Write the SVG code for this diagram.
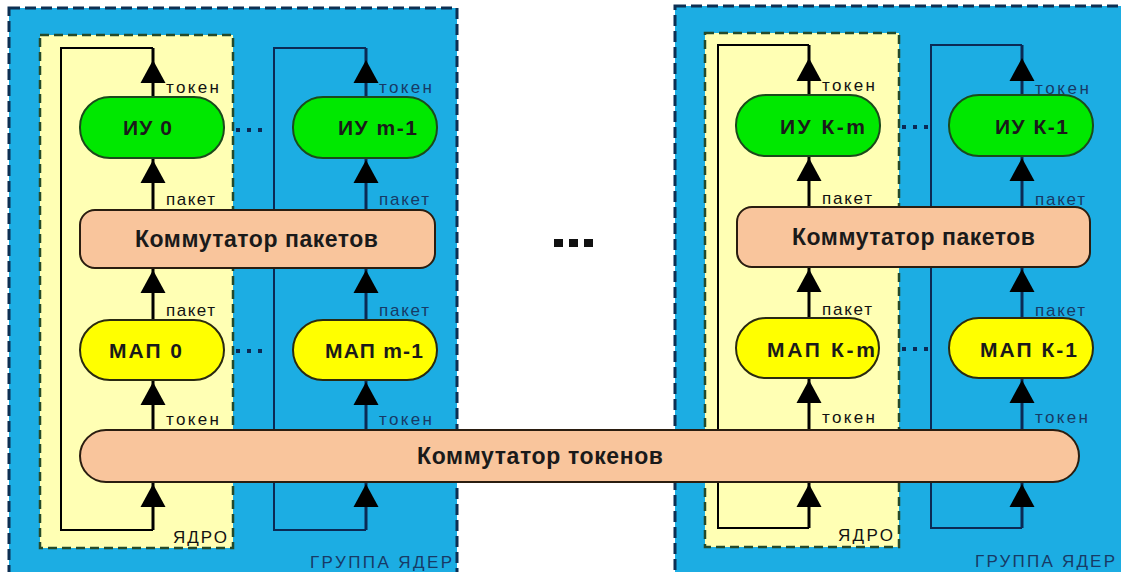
<svg xmlns="http://www.w3.org/2000/svg" width="1121" height="572" viewBox="0 0 1121 572">
<style>
.grp{fill:#1cade3;stroke:#0d2f52;stroke-width:3;stroke-dasharray:11 5}
.core{fill:#ffffb4;stroke:#244a2a;stroke-width:2.5;stroke-dasharray:9 5}
.iu{fill:#00e800;stroke:#1b4a1b;stroke-width:2}
.map{fill:#ffff00;stroke:#2a2a10;stroke-width:2}
.sw{fill:#f9c59c;stroke:#2a1d10;stroke-width:2}
.nl{font-family:"Liberation Sans",Arial,sans-serif;font-weight:bold;font-size:21px;fill:#1a1a1a}
.big{font-size:23px}
.sm{font-family:"Liberation Sans",Arial,sans-serif;font-size:17px;fill:#111}
.gl{font-family:"Liberation Sans",Arial,sans-serif;font-size:17px;fill:#173a66}
.lk{fill:none;stroke:#000;stroke-width:2}
.ln{fill:none;stroke:#0b2a55;stroke-width:2}
.ck{fill:none;stroke:#000;stroke-width:3}
.cn{fill:none;stroke:#0b2a55;stroke-width:3}
.dot{fill:#0b2a55}
</style>
<defs>
<path id="ah" d="M0,0 L12.5,23 L-12.5,23 Z" fill="#000"/>
</defs>

<g id="group-left">
<rect class="grp" x="9" y="8" width="448" height="572"/>
<text class="gl" x="310" y="568" textLength="142" lengthAdjust="spacing">ГРУППА ЯДЕР</text>
</g>
<g id="group-right">
<rect class="grp" x="675" y="6" width="460" height="574"/>
<text class="gl" x="975" y="567" textLength="140" lengthAdjust="spacing">ГРУППА ЯДЕР</text>
</g>
<g id="core-left">
<rect class="core" x="40" y="35" width="193" height="513"/>
<text class="sm" x="173" y="543" textLength="54" lengthAdjust="spacing">ЯДРО</text>
</g>
<g id="core-right">
<rect class="core" x="705" y="33" width="194" height="514"/>
<text class="sm" x="838" y="541" textLength="55" lengthAdjust="spacing">ЯДРО</text>
</g>

<g id="connectors">
<path class="lk" d="M153,530 H61 V48 H153"/>
<path class="ck" d="M153,48 V97 M153,158 V210 M153,268 V320 M153,380 V430 M153,482 V530"/>
<use href="#ah" x="153" y="60"/><use href="#ah" x="153" y="160"/><use href="#ah" x="153" y="270"/><use href="#ah" x="153" y="382"/><use href="#ah" x="153" y="484"/>
<path class="ln" d="M366,530 H274 V48 H366"/>
<path class="cn" d="M366,48 V97 M366,158 V210 M366,268 V320 M366,380 V430 M366,482 V530"/>
<use href="#ah" x="366" y="60"/><use href="#ah" x="366" y="160"/><use href="#ah" x="366" y="270"/><use href="#ah" x="366" y="382"/><use href="#ah" x="366" y="484"/>
<path class="lk" d="M809,528 H718 V45 H809"/>
<path class="ck" d="M809,45 V95 M809,156 V207 M809,267 V318 M809,378 V430 M809,482 V528"/>
<use href="#ah" x="809" y="58"/><use href="#ah" x="809" y="158"/><use href="#ah" x="809" y="269"/><use href="#ah" x="809" y="380"/><use href="#ah" x="809" y="484"/>
<path class="ln" d="M1022,528 H931 V45 H1022"/>
<path class="cn" d="M1022,45 V95 M1022,156 V207 M1022,267 V318 M1022,378 V430 M1022,482 V528"/>
<use href="#ah" x="1022" y="58"/><use href="#ah" x="1022" y="158"/><use href="#ah" x="1022" y="269"/><use href="#ah" x="1022" y="380"/><use href="#ah" x="1022" y="484"/>

<text class="sm" x="166" y="93" textLength="53" lengthAdjust="spacing">токен</text>
<text class="sm" x="166" y="205" textLength="49" lengthAdjust="spacing">пакет</text>
<text class="sm" x="166" y="316" textLength="49" lengthAdjust="spacing">пакет</text>
<text class="sm" x="166" y="425" textLength="53" lengthAdjust="spacing">токен</text>
<text class="gl" x="379" y="93" textLength="53" lengthAdjust="spacing">токен</text>
<text class="gl" x="379" y="205" textLength="50" lengthAdjust="spacing">пакет</text>
<text class="gl" x="379" y="316" textLength="50" lengthAdjust="spacing">пакет</text>
<text class="gl" x="379" y="425" textLength="53" lengthAdjust="spacing">токен</text>
<text class="sm" x="822" y="91" textLength="53" lengthAdjust="spacing">токен</text>
<text class="sm" x="822" y="204" textLength="50" lengthAdjust="spacing">пакет</text>
<text class="sm" x="822" y="315" textLength="50" lengthAdjust="spacing">пакет</text>
<text class="sm" x="822" y="423" textLength="53" lengthAdjust="spacing">токен</text>
<text class="gl" x="1035" y="94" textLength="54" lengthAdjust="spacing">токен</text>
<text class="gl" x="1035" y="205" textLength="50" lengthAdjust="spacing">пакет</text>
<text class="gl" x="1035" y="316" textLength="50" lengthAdjust="spacing">пакет</text>
<text class="gl" x="1035" y="423" textLength="53" lengthAdjust="spacing">токен</text>

<rect class="dot" x="236" y="128" width="4" height="4"/><rect class="dot" x="247" y="128" width="4" height="4"/><rect class="dot" x="258" y="128" width="4" height="4"/>
<rect class="dot" x="236" y="349" width="4" height="4"/><rect class="dot" x="247" y="349" width="4" height="4"/><rect class="dot" x="258" y="349" width="4" height="4"/>
<rect class="dot" x="902" y="125" width="4" height="4"/><rect class="dot" x="913" y="125" width="4" height="4"/><rect class="dot" x="924" y="125" width="4" height="4"/>
<rect class="dot" x="902" y="347" width="4" height="4"/><rect class="dot" x="913" y="347" width="4" height="4"/><rect class="dot" x="924" y="347" width="4" height="4"/>
<rect x="554" y="239" width="9" height="8" fill="#111"/><rect x="569" y="239" width="9" height="8" fill="#111"/><rect x="584" y="239" width="9" height="8" fill="#111"/>
</g>

<g id="iu-0"><rect class="iu" x="80" y="97" width="144" height="61" rx="30"/><text class="nl" x="123" y="135" textLength="49" lengthAdjust="spacing">ИУ 0</text></g>
<g id="iu-m-1"><rect class="iu" x="293" y="97" width="144" height="61" rx="30"/><text class="nl" x="338" y="135" textLength="79" lengthAdjust="spacing">ИУ m-1</text></g>
<g id="iu-k-m"><rect class="iu" x="736" y="95" width="144" height="61" rx="30"/><text class="nl" x="780" y="134" textLength="85" lengthAdjust="spacing">ИУ К-m</text></g>
<g id="iu-k-1"><rect class="iu" x="949" y="95" width="144" height="61" rx="30"/><text class="nl" x="995" y="134" textLength="73" lengthAdjust="spacing">ИУ К-1</text></g>

<g id="psw-left"><rect class="sw" x="80" y="210" width="355" height="58" rx="15"/><text class="nl big" x="135" y="247" textLength="243" lengthAdjust="spacing">Коммутатор пакетов</text></g>
<g id="psw-right"><rect class="sw" x="737" y="207" width="353" height="60" rx="15"/><text class="nl big" x="792" y="245" textLength="243" lengthAdjust="spacing">Коммутатор пакетов</text></g>

<g id="map-0"><rect class="map" x="80" y="320" width="144" height="60" rx="30"/><text class="nl" x="109" y="358" textLength="73" lengthAdjust="spacing">МАП 0</text></g>
<g id="map-m-1"><rect class="map" x="293" y="320" width="144" height="60" rx="30"/><text class="nl" x="325" y="358" textLength="98" lengthAdjust="spacing">МАП m-1</text></g>
<g id="map-k-m"><rect class="map" x="736" y="318" width="143" height="60" rx="30"/><text class="nl" x="767" y="357" textLength="108" lengthAdjust="spacing">МАП К-m</text></g>
<g id="map-k-1"><rect class="map" x="949" y="318" width="144" height="60" rx="30"/><text class="nl" x="980" y="357" textLength="97" lengthAdjust="spacing">МАП К-1</text></g>

<g id="tsw"><rect class="sw" x="80" y="430" width="999" height="52" rx="26"/><text class="nl big" x="417" y="464" textLength="246" lengthAdjust="spacing">Коммутатор токенов</text></g>
</svg>
